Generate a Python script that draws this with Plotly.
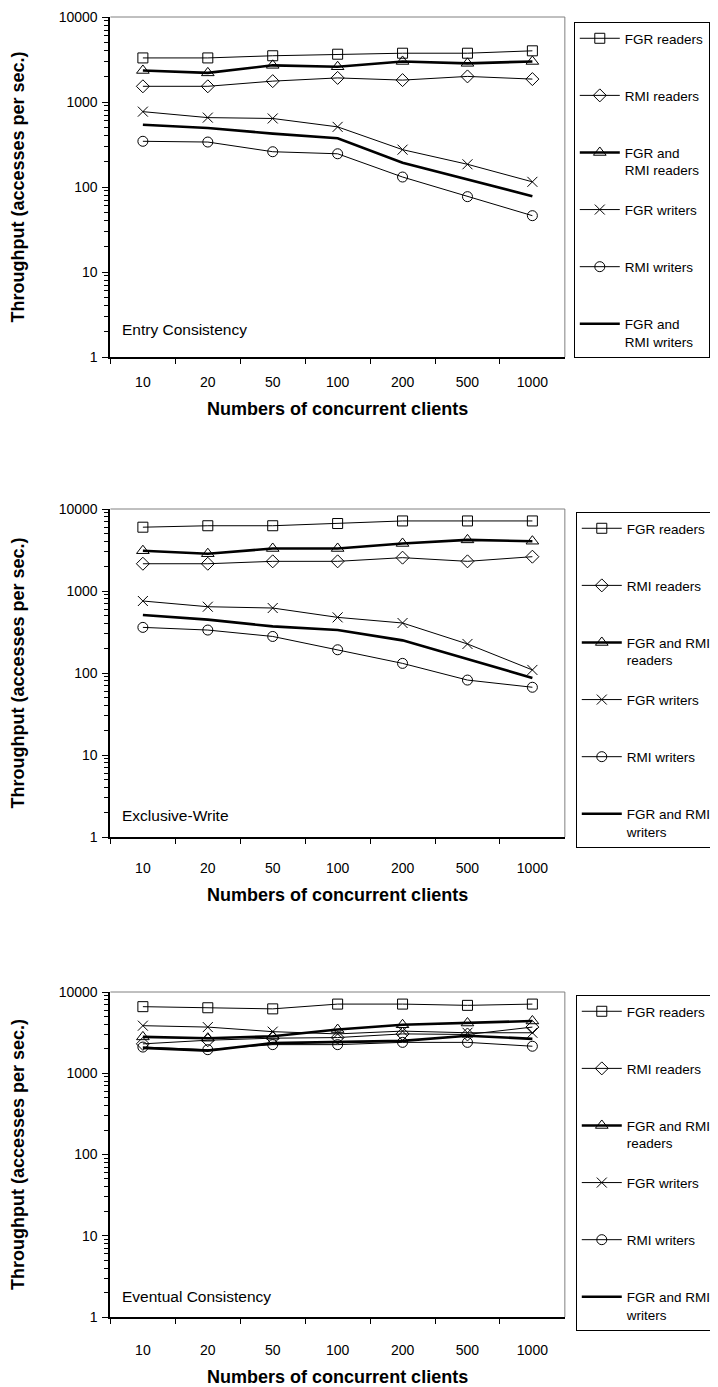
import plotly.graph_objects as go

clients = ["10", "20", "50", "100", "200", "500", "1000"]

# Entry Consistency
ec_fgr_readers = [3300, 3300, 3500, 3650, 3750, 3750, 4000]
ec_rmi_readers = [1530, 1530, 1760, 1920, 1810, 2000, 1860]
ec_both_readers = [2350, 2200, 2700, 2600, 3000, 2850, 3000]
ec_fgr_writers = [770, 655, 640, 510, 275, 185, 115]
ec_rmi_writers = [345, 338, 260, 246, 131, 77, 46]
ec_both_writers = [540, 495, 425, 375, 193, 123, 78]

# Exclusive-Write
ew_fgr_readers = [6000, 6250, 6250, 6650, 7150, 7150, 7150]
ew_rmi_readers = [2150, 2150, 2300, 2300, 2550, 2300, 2620]
ew_both_readers = [3100, 2850, 3300, 3300, 3800, 4200, 4050]
ew_fgr_writers = [755, 643, 620, 477, 407, 226, 109]
ew_rmi_writers = [360, 334, 279, 192, 131, 82, 67]
ew_both_writers = [510, 447, 370, 334, 250, 149, 87]

# Eventual Consistency
ev_fgr_readers = [6600, 6400, 6200, 7100, 7100, 6850, 7100]
ev_rmi_readers = [2300, 2550, 2700, 2750, 3050, 3000, 3700]
ev_both_readers = [2800, 2700, 2850, 3450, 3950, 4150, 4400]
ev_fgr_writers = [3850, 3700, 3250, 3050, 3300, 3150, 3150]
ev_rmi_writers = [2100, 1950, 2250, 2250, 2400, 2400, 2150]
ev_both_writers = [2050, 1900, 2350, 2400, 2500, 2900, 2650]

panel_titles = ["Entry Consistency", "Exclusive-Write", "Eventual Consistency"]
y_tick_vals = [1, 10, 100, 1000, 10000]
y_tick_text = ["1", "10", "100", "1000", "10000"]
y_title = "Throughput (accesses per sec.)"
x_title = "Numbers of concurrent clients"

names_top = ["FGR readers", "RMI readers", "FGR and<br>RMI readers",
             "FGR writers", "RMI writers", "FGR and<br>RMI writers"]
names_other = ["FGR readers", "RMI readers", "FGR and RMI<br>readers",
               "FGR writers", "RMI writers", "FGR and RMI<br>writers"]

panels = [
    [ec_fgr_readers, ec_rmi_readers, ec_both_readers, ec_fgr_writers, ec_rmi_writers, ec_both_writers],
    [ew_fgr_readers, ew_rmi_readers, ew_both_readers, ew_fgr_writers, ew_rmi_writers, ew_both_writers],
    [ev_fgr_readers, ev_rmi_readers, ev_both_readers, ev_fgr_writers, ev_rmi_writers, ev_both_writers],
]
panel_names = [names_top, names_other, names_other]

OFF = 8  # page body margin
W, H = 718 - OFF, 1387 - OFF
FONT = "Liberation Sans, Arial, sans-serif"

# page-pixel layout of each panel:
# (plot top, plot bottom, legend top, legend left, tick-label standoff, annotation y)
panel_px = [
    (17, 357, 22, 577, 11, 0.05),
    (509, 837, 512, 579, 17, 0.035),
    (992, 1317, 995, 579, 19, 0.032),
]
x_left, x_right = 111, 568

styles = [
    dict(symbol="square-open", size=10, lw=1, mode="lines+markers"),
    dict(symbol="diamond-open", size=10, lw=1, mode="lines+markers"),
    dict(symbol="triangle-up-open", size=11, lw=2.6, mode="lines+markers"),
    dict(symbol="x-thin-open", size=10, lw=1, mode="lines+markers"),
    dict(symbol="circle-open", size=10, lw=1, mode="lines+markers"),
    dict(symbol="circle", size=1, lw=2.6, mode="lines"),
]

fig = go.Figure()

minor_vals = [m * 10 ** e for e in range(4) for m in range(2, 10)]


def fy(px):
    return 1 - (px - OFF) / H


def fx(px):
    return (px - OFF) / W


for p in range(3):
    suffix = "" if p == 0 else str(p + 1)
    xa = "x" + suffix
    ya = "y" + suffix
    leg = "legend" + suffix
    for i, (vals, st) in enumerate(zip(panels[p], styles)):
        name = panel_names[p][i]
        if "<br>" not in name:
            name = name + "<br>\u00a0"
        tr = go.Scatter(
            x=clients, y=vals, name=name, mode=st["mode"],
            line=dict(color="black", width=st["lw"]),
            xaxis=xa, yaxis=ya, legend=leg, legendgroup=f"p{p}g{i}",
            showlegend=True,
        )
        if st["mode"] != "lines":
            tr.marker = dict(symbol=st["symbol"], size=st["size"], color="black",
                             line=dict(color="black", width=1))
        fig.add_trace(tr)

    top, bot, legtop, legleft, lblstand, anny = panel_px[p]
    ydom = [fy(bot), fy(top)]
    xdom = [fx(x_left), fx(x_right)]
    fig.layout["xaxis" + suffix] = dict(
        domain=xdom, anchor=ya, type="category", categoryorder="array",
        categoryarray=clients, tickson="boundaries", ticks="outside", ticklen=5,
        tickcolor="black", showline=True, linecolor="black", linewidth=2,
        showgrid=False, zeroline=False, automargin=False, ticklabelstandoff=lblstand,
        tickfont=dict(family=FONT, size=14, color="black"),
        title=dict(text="<b>" + x_title + "</b>", font=dict(family=FONT, size=18, color="black"),
                   standoff=14),
        range=[-0.5, 6.5], fixedrange=True,
    )
    fig.layout["yaxis" + suffix] = dict(
        domain=ydom, anchor=xa, type="log", range=[0, 4],
        tickmode="array", tickvals=y_tick_vals, ticktext=y_tick_text,
        ticks="outside", ticklen=6, tickcolor="black", tickwidth=1,
        minor=dict(tickmode="array", tickvals=minor_vals, ticks="outside",
                   ticklen=4, tickcolor="black", showgrid=False),
        showline=True, linecolor="black", linewidth=2, showgrid=False, zeroline=False,
        automargin=False, ticklabelstandoff=2,
        tickfont=dict(family=FONT, size=14, color="black"),
        title=dict(text="<b>" + y_title + "</b>", font=dict(family=FONT, size=18, color="black"),
                   standoff=32),
    )
    # plot-area border (top and right)
    fig.add_shape(type="line", xref=xa + " domain", yref=ya + " domain",
                  x0=0, x1=1, y0=1, y1=1, line=dict(color="#808080", width=1))
    fig.add_shape(type="line", xref=xa + " domain", yref=ya + " domain",
                  x0=1, x1=1, y0=0, y1=1, line=dict(color="#808080", width=1))
    fig.add_annotation(text=panel_titles[p], xref=xa + " domain", yref=ya + " domain",
                       x=0.022, y=anny, xanchor="left", yanchor="bottom", showarrow=False,
                       font=dict(family=FONT, size=15.5, color="black"))
    fig.layout[leg] = dict(
        x=fx(legleft), y=fy(legtop), xanchor="left", yanchor="top",
        bordercolor="black", borderwidth=1, bgcolor="white",
        font=dict(family=FONT, size=13.5, color="black"),
        tracegroupgap=19, valign="top", itemsizing="trace", traceorder="grouped",
        itemwidth=40,
    )

fig.update_layout(
    width=W, height=H, margin=dict(l=0, r=0, t=0, b=0),
    paper_bgcolor="white", plot_bgcolor="white",
    font=dict(family=FONT, size=13, color="black"),
)

fig.write_html("out.html")
